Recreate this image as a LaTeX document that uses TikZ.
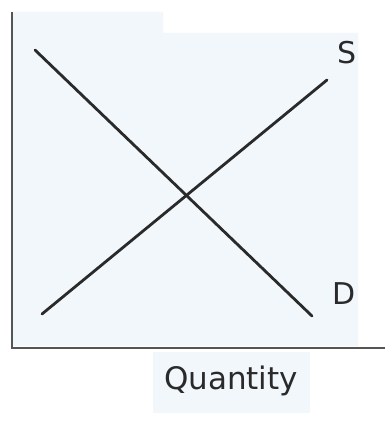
\documentclass[tikz,border=0pt]{standalone}
\usepackage{fontspec}
\setmainfont{DejaVu Sans}
\definecolor{paper}{HTML}{F1F7FB}
\definecolor{ink}{HTML}{2A2A2A}
\begin{document}
\begin{tikzpicture}[x=1pt,y=-1pt,
  curve/.style={line width=2.8pt,draw=ink,line cap=round},
  axis/.style={line width=1.4pt,draw=ink!80},
  lbl/.style={font=\fontsize{30}{30}\selectfont,text=ink,inner sep=0pt}]
\useasboundingbox (0,0) rectangle (385,422);
\fill[white] (0,0) rectangle (385,422);
\fill[paper] (12,12) -- (163,12) -- (163,33) -- (358,33) -- (358,346) -- (12,346) -- cycle;
\fill[paper] (153,352) rectangle (310,413);
% axes
\coordinate (top) at (12,12);
\coordinate (origin) at (12,348);
\coordinate (right) at (385,348);
\draw[axis] (top) -- (origin) -- (right);
% curves
\coordinate (d1) at (35,50);
\coordinate (d2) at (312,316);
\coordinate (s1) at (42,314);
\coordinate (s2) at (327,80);
\draw[curve] (d1) -- (d2);
\draw[curve] (s1) -- (s2);
\node[lbl] (S) at (347,53) {S};
\node[lbl] (D) at (344,294) {D};
\node[font=\fontsize{31}{31}\selectfont,text=ink] (q) at (231,381) {Quantity};
\end{tikzpicture}
\end{document}
